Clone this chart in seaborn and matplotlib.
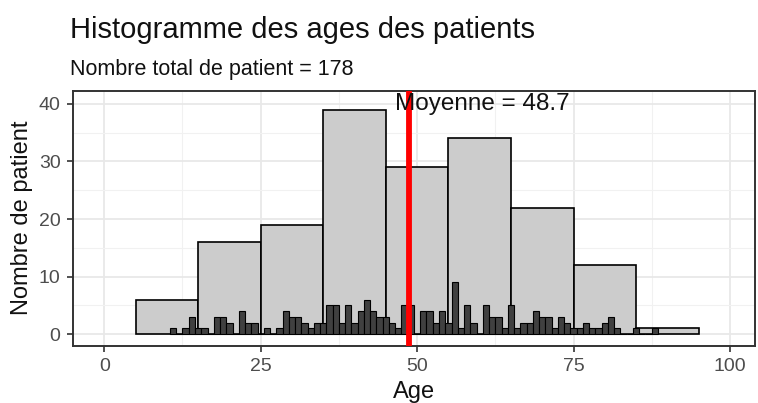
import numpy as np
import matplotlib
matplotlib.use("Agg")
import matplotlib.pyplot as plt
import seaborn as sns

# Data
bin_centers = [10, 20, 30, 40, 50, 60, 70, 80, 90]
bin_counts = [6, 16, 19, 39, 29, 34, 22, 12, 1]

ages = list(range(11, 89))
age_counts = [1, 0, 1, 3, 1, 1, 0, 3, 3, 2,      # 11-20
              0, 4, 2, 2, 0, 1, 0, 1, 4, 3,      # 21-30
              3, 2, 1, 2, 2, 5, 5, 2, 5, 2,      # 31-40
              4, 6, 4, 3, 3, 2, 1, 5, 5, 0,      # 41-50
              4, 4, 2, 4, 2, 9, 1, 5, 2, 0,      # 51-60
              5, 3, 3, 1, 5, 1, 2, 2, 4, 3,      # 61-70
              3, 1, 3, 2, 1, 1, 2, 1, 1, 2,      # 71-80
              3, 1, 0, 0, 1, 0, 0, 1]            # 81-88

mean_age = 48.7
n_total = 178

sns.set_theme(style="whitegrid")
plt.rcParams['font.family'] = ['Liberation Sans', 'DejaVu Sans']

fig = plt.figure(figsize=(7.58, 4.03), dpi=100)
ax = fig.add_axes([0.0963, 0.1422, 0.8997, 0.6328])

# wide bins (binwidth 10)
sns.histplot(x=bin_centers, weights=bin_counts, binwidth=10, binrange=(5, 95),
             color='#CCCCCC', alpha=1, edgecolor='black', linewidth=1.2, ax=ax)
# one-year bins
sns.histplot(x=ages, weights=age_counts, binwidth=1, binrange=(10.5, 88.5),
             color='#404040', alpha=1, edgecolor='black', linewidth=0.8, ax=ax)

ax.axvline(mean_age, color='red', linewidth=4.2, zorder=5)
ax.text(mean_age + 11.7, 40, f"Moyenne = {mean_age}", ha='center', va='center',
        fontsize=17.5, color='#111111', zorder=6)

ax.set_xlim(-5, 104)
ax.set_ylim(-2.0, 42.3)
ax.set_xticks([0, 25, 50, 75, 100])
ax.set_yticks([0, 10, 20, 30, 40])
ax.set_xticks([12.5, 37.5, 62.5, 87.5], minor=True)
ax.set_yticks([5, 15, 25, 35], minor=True)

ax.set_axisbelow(True)
ax.grid(which='major', color='#E8E8E8', linewidth=1.3)
ax.grid(which='minor', color='#F1F1F1', linewidth=0.8)
ax.set_facecolor('white')
for sp in ax.spines.values():
    sp.set_color('#333333')
    sp.set_linewidth(1.4)

ax.tick_params(axis='both', which='major', length=4, width=1.2, color='#333333',
               labelsize=14, labelcolor='#4D4D4D', pad=5)
ax.tick_params(axis='both', which='minor', length=0)
ax.tick_params(bottom=True, left=True)

ax.set_xlabel("Age", fontsize=17, color='#111111', labelpad=4)
ax.set_ylabel("Nombre de patient", fontsize=17, color='#111111', labelpad=4)

fig.text(70 / 758, 1 - 38 / 403, "Histogramme des ages des patients",
         fontsize=21, color='#111111', va='baseline', ha='left')
fig.text(70 / 758, 1 - 75 / 403, f"Nombre total de patient = {n_total}",
         fontsize=15.5, color='#111111', va='baseline', ha='left')

fig.savefig("out.png", dpi=100)
